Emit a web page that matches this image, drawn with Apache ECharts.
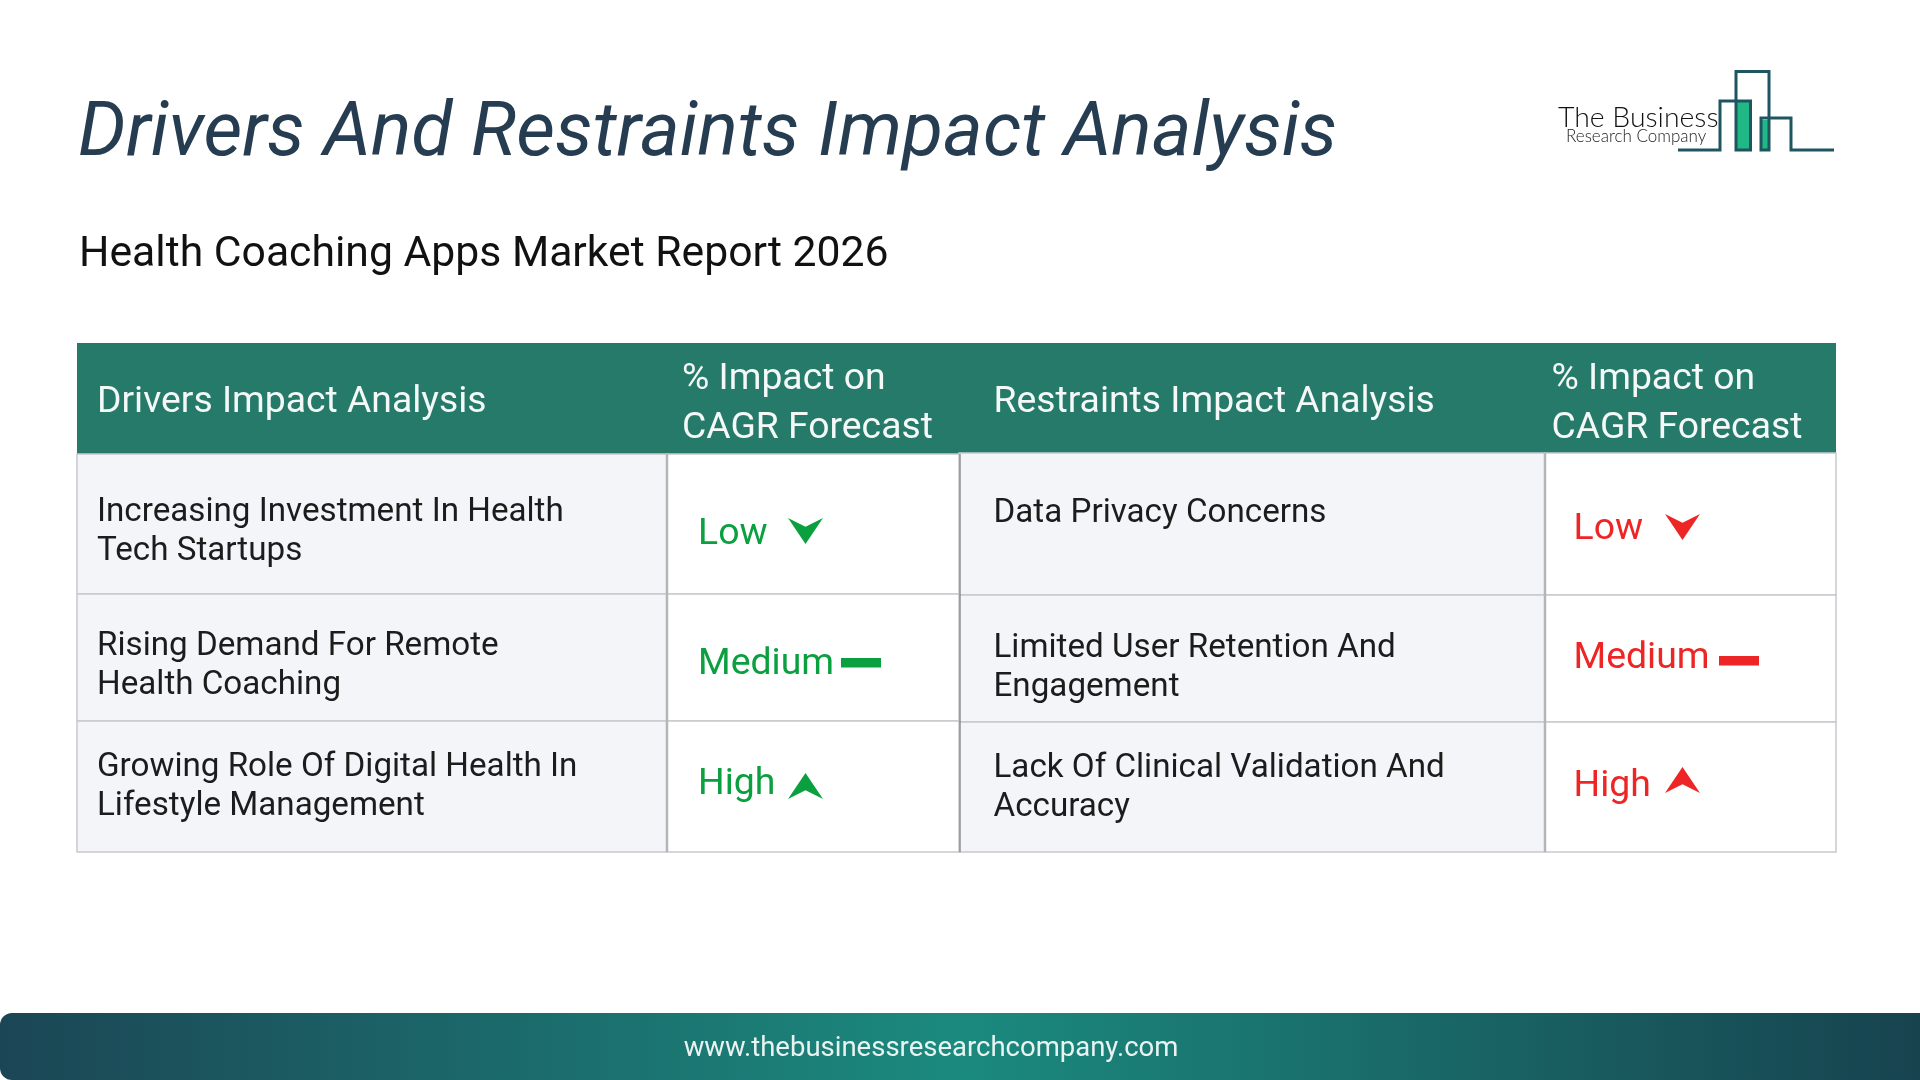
<!DOCTYPE html>
<html>
<head>
<meta charset="utf-8">
<title>Drivers And Restraints Impact Analysis</title>
<style>
  html, body { margin: 0; padding: 0; background: #fff; }
  #main { width: 1920px; height: 1080px; }
</style>
<script src="https://cdn.jsdelivr.net/npm/echarts@6/dist/echarts.min.js"></script>
</head>
<body>
<div id="main"></div>
<script>
/* table content */
var titleText = 'Drivers And Restraints Impact Analysis';
var subtitleText = 'Health Coaching Apps Market Report 2026';
var footerText = 'www.thebusinessresearchcompany.com';
var rowNames = ['header', 'row1', 'row2', 'row3'];
var leftHeaders = ['Drivers Impact Analysis', '% Impact on\nCAGR Forecast'];
var rightHeaders = ['Restraints Impact Analysis', '% Impact on\nCAGR Forecast'];
var driverNames = [
  'Increasing Investment In Health\nTech Startups',
  'Rising Demand For Remote\nHealth Coaching',
  'Growing Role Of Digital Health In\nLifestyle Management'
];
var driverLevels = ['Low', 'Medium', 'High'];
var restraintNames = [
  'Data Privacy Concerns',
  'Limited User Retention And\nEngagement',
  'Lack Of Clinical Validation And\nAccuracy'
];
var restraintLevels = ['Low', 'Medium', 'High'];

/* styles */
var FONT = 'Roboto';
var HEAD_BG = '#267a6a';
var NAME_BG = '#f3f5f8';
var GRID_LINE = '#c9c9ce';
var GREEN = '#0ba03f';
var RED = '#ee2525';
var TEAL_LINE = '#1f5560';
var arrowDown = 'M0,0 L50,34 L100,0 L50,100 Z';
var arrowUp = 'M50,0 L100,100 L50,66 L0,100 Z';

/* one half of the table: a two column matrix plus a custom series for its text and marks */
function buildHalf(idx, box, rowSizes, headers, names, levels, color, pos) {
  var colNames = ['name' + idx, 'level' + idx];
  var cells = [];
  var bodyData = [];
  headers.forEach(function (h, c) {
    cells.push({ col: c, row: 0, kind: 'head', text: h, dx: pos.headDx[c] });
    bodyData.push({ coord: [c, 0], value: '', itemStyle: { color: HEAD_BG, borderColor: HEAD_BG, borderWidth: 0 } });
  });
  names.forEach(function (n, r) {
    cells.push({ col: 0, row: r + 1, kind: 'name', text: n, dy: pos.nameDy[r] });
    cells.push({ col: 1, row: r + 1, kind: 'level', text: levels[r], baseline: pos.base[r], mark: pos.mark[r] });
    bodyData.push({ coord: [0, r + 1], value: '', itemStyle: { color: NAME_BG } });
    bodyData.push({ coord: [1, r + 1], value: '', itemStyle: { color: '#fff' } });
  });

  var matrix = {
    left: box.left, top: box.top, width: box.width, height: box.height,
    x: { show: false, data: [{ value: colNames[0], size: box.col0 }, { value: colNames[1], size: box.width - box.col0 }] },
    y: { show: false, data: rowNames.map(function (n, i) { return { value: n, size: rowSizes[i] }; }) },
    body: { data: bodyData, itemStyle: { borderColor: GRID_LINE, borderWidth: 1.5 }, label: { show: false } },
    backgroundStyle: { color: 'transparent', borderWidth: 0 }
  };

  var series = {
    type: 'custom',
    coordinateSystem: 'matrix',
    matrixIndex: idx,
    silent: true,
    data: cells.map(function (c) { return [c.col, c.row]; }),
    renderItem: function (params, api) {
      var c = cells[params.dataIndex];
      var rect = api.layout([c.col, c.row]).rect;
      var kids = [];
      if (c.kind === 'head') {
        kids.push({ type: 'text', style: {
          x: rect.x + c.dx, y: rect.y + rect.height / 2 + (c.col ? 6 : 4.5), text: c.text,
          fill: '#f4f9f8', font: '37.3px ' + FONT, lineHeight: 49, verticalAlign: 'middle', align: 'left'
        } });
      }
      if (c.kind === 'name') {
        kids.push({ type: 'text', style: {
          x: rect.x + pos.nameDx, y: rect.y + rect.height / 2 + c.dy, text: c.text,
          fill: '#1c1c1c', font: '33.2px ' + FONT, lineHeight: 39, verticalAlign: 'middle', align: 'left'
        } });
      }
      if (c.kind === 'level') {
        kids.push({ type: 'text', style: {
          x: rect.x + pos.textDx, y: c.baseline - 8, text: c.text,
          fill: color, font: '37.4px ' + FONT, verticalAlign: 'middle', align: 'left'
        } });
        var m = c.mark;
        if (c.text === 'Medium') {
          kids.push({ type: 'rect', shape: { x: m[0], y: m[1], width: 40, height: 9.5 }, style: { fill: color } });
        } else {
          kids.push({ type: 'path', shape: { pathData: c.text === 'Low' ? arrowDown : arrowUp, layout: 'cover', x: m[0], y: m[1], width: 35, height: 26 }, style: { fill: color } });
        }
      }
      /* divider lines between the columns */
      if (c.row > 0 && c.col === 0) {
        kids.push({ type: 'line', shape: { x1: rect.x + rect.width, y1: rect.y, x2: rect.x + rect.width, y2: rect.y + rect.height }, style: { stroke: '#b4b4b9', lineWidth: 2.5 } });
      }
      if (idx === 0 && c.row > 0 && c.col === 1) {
        kids.push({ type: 'line', shape: { x1: rect.x + rect.width, y1: rect.y, x2: rect.x + rect.width, y2: rect.y + rect.height }, style: { stroke: '#77777c', lineWidth: 1.2 } });
      }
      return { type: 'group', children: kids };
    }
  };
  return { matrix: matrix, series: series };
}

var leftHalf = buildHalf(0,
  { left: 77, top: 343, width: 883, height: 509, col0: 590 },
  [111, 140, 127, 131], leftHeaders, driverNames, driverLevels, GREEN,
  { headDx: [20, 15], nameDx: 20, textDx: 31, nameDy: [8.5, 9, 0.7], base: [543, 673, 793], mark: [[788, 518], [841, 658], [788, 773]] });
var rightHalf = buildHalf(1,
  { left: 959, top: 343, width: 877, height: 509, col0: 586 },
  [110, 142, 127, 130], rightHeaders, restraintNames, restraintLevels, RED,
  { headDx: [34.5, 6.5], nameDx: 34.5, textDx: 28.5, nameDy: [-10.5, 9.5, 1.5], base: [538, 667, 795], mark: [[1665, 514], [1719, 656], [1665, 767]] });

/* logo is drawn with plain graphic elements */
var logoOutline = [[1678, 150], [1720, 150], [1720, 101], [1750.5, 101], [1750.5, 150], [1736, 150], [1736, 71.5],
  [1769, 71.5], [1769, 150], [1761, 150], [1761, 118], [1791, 118], [1791, 150], [1834, 150]];

var option = {
  backgroundColor: '#ffffff',
  animation: false,
  title: [
    { text: titleText, left: 73, top: 94, textStyle: { fontFamily: FONT, fontStyle: 'italic', fontWeight: 400, fontSize: 75.4, color: '#263c50' } },
    { text: subtitleText, left: 74, top: 229, textStyle: { fontFamily: FONT, fontWeight: 400, fontSize: 42.7, color: '#111111' } }
  ],
  matrix: [leftHalf.matrix, rightHalf.matrix],
  series: [leftHalf.series, rightHalf.series],
  graphic: [
    { type: 'rect', z: 1, shape: { x: 1736, y: 102, width: 14, height: 47 }, style: { fill: '#20b885' } },
    { type: 'rect', z: 1, shape: { x: 1762, y: 120, width: 7, height: 29 }, style: { fill: '#20b885' } },
    { type: 'polyline', z: 2, shape: { points: logoOutline }, style: { stroke: TEAL_LINE, fill: null, lineWidth: 3 } },
    { type: 'text', z: 2, style: { x: 1558, y: 118, text: 'The Business', fill: '#111', font: '300 28.4px Lato', verticalAlign: 'middle' } },
    { type: 'text', z: 2, style: { x: 1566, y: 137, text: 'Research Company', fill: '#222', font: '300 17px Lato', verticalAlign: 'middle' } },
    { type: 'rect', z: 1, shape: { x: 0, y: 1013, width: 1920, height: 67, r: [12, 0, 0, 12] },
      style: { fill: new echarts.graphic.LinearGradient(0, 0, 1, 0, [
        { offset: 0, color: '#1b4655' }, { offset: 0.5, color: '#1b8a7e' }, { offset: 1, color: '#17434f' }
      ]) } },
    { type: 'text', z: 2, style: { x: 931, y: 1049, text: footerText, fill: '#e8f3f2', font: '27.5px ' + FONT, align: 'center', verticalAlign: 'middle' } }
  ]
};

var chart = echarts.init(document.getElementById('main'));
chart.setOption(option);
</script>
</body>
</html>
